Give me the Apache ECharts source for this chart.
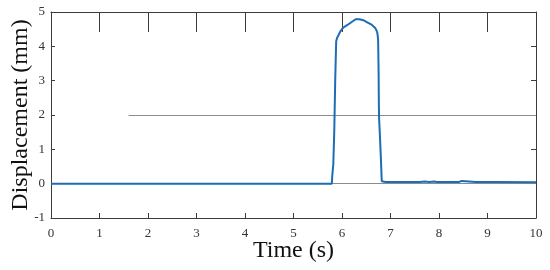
<!DOCTYPE html>
<html>
<head>
<meta charset="utf-8">
<script src="https://cdn.jsdelivr.net/npm/echarts@6/dist/echarts.min.js"></script>
<style>
html, body { margin: 0; padding: 0; background: #fff; }
#disp { width: 550px; height: 270px; }
</style>
</head>
<body>
<div id="disp"></div>
<script>
// time (s) and displacement (mm)
var time = [
	0, 1.03, 1.05, 1.07, 3.23, 3.25, 3.27, 4.88, 4.9, 4.92, 5.03, 5.05, 5.07,
	5.79, 5.80, 5.82, 5.84, 5.86, 5.88, 5.90, 5.93, 5.96, 6.0, 6.04, 6.08, 6.12,
	6.16, 6.20, 6.24, 6.28, 6.32, 6.36, 6.40, 6.44, 6.48, 6.52, 6.56, 6.60, 6.64,
	6.68, 6.71, 6.73, 6.745, 6.755, 6.76, 6.765, 6.77, 6.78, 6.80, 6.82, 6.83, 6.85,
	6.9, 7.3, 7.6, 7.7, 7.8, 7.9, 7.95, 8.04, 8.06, 8.08, 8.14, 8.16, 8.18,
	8.27, 8.29, 8.31, 8.41, 8.43, 8.45, 8.47, 8.76, 8.78, 8.8, 9.13, 9.15, 9.17, 10
];
var disp = [
	0, 0, -0.04, 0, 0, -0.03, 0, 0, -0.04, 0, 0, -0.03, 0,
	0, 0.25, 0.55, 1.5, 3.0, 4.15, 4.25, 4.33, 4.42, 4.5, 4.56, 4.6, 4.63,
	4.67, 4.71, 4.75, 4.79, 4.8, 4.79, 4.78, 4.76, 4.73, 4.7, 4.67, 4.64, 4.6,
	4.54, 4.47, 4.38, 4.2, 3.2, 2.3, 1.9, 1.85, 1.45, 0.8, 0.07, 0.12, 0.06,
	0.05, 0.05, 0.05, 0.06, 0.05, 0.06, 0.05, 0.05, 0.1, 0.05, 0.05, 0.09, 0.05,
	0.05, 0.09, 0.05, 0.05, 0.09, 0.05, 0.08, 0.05, 0.1, 0.05, 0.05, 0.09, 0.04, 0.04
];
var xTicks = [0, 10, 1];
var yTicks = [-1, 5, 1];
var refLevel = 2;
var refStart = 1.6;

var myChart = echarts.init(document.getElementById('disp'));

var points = [];
for (var i = 0; i < time.length; i++) {
	points.push([time[i], disp[i]]);
}

var font = '"Liberation Serif", "Times New Roman", serif';
var axisCol = '#3c3c3c';

option = {
	animation: false,
	grid: {
		left: 51,
		right: 14,
		top: 12,
		bottom: 52,
		outerBoundsMode: 'none'
	},
	xAxis: [{
		type: 'value',
		position: 'bottom',
		min: xTicks[0],
		max: xTicks[1],
		interval: xTicks[2],
		name: 'Time (s)',
		nameLocation: 'middle',
		nameGap: 21,
		nameMoveOverlap: false,
		nameTextStyle: { fontFamily: font, fontSize: 24, color: '#111' },
		axisLine: { onZero: false, lineStyle: { color: axisCol, width: 1 } },
		axisTick: { inside: true, length: 5, lineStyle: { color: axisCol } },
		axisLabel: { fontFamily: font, fontSize: 13, color: '#333', margin: 9 },
		splitLine: { show: false }
	}, {
		type: 'value',
		position: 'top',
		min: xTicks[0],
		max: xTicks[1],
		interval: xTicks[2],
		axisLine: { onZero: false, lineStyle: { color: axisCol, width: 1 } },
		axisTick: { inside: true, length: 20, lineStyle: { color: axisCol } },
		axisLabel: { show: false },
		splitLine: { show: false }
	}],
	yAxis: [{
		type: 'value',
		position: 'left',
		min: yTicks[0],
		max: yTicks[1],
		interval: yTicks[2],
		name: 'Displacement (mm)',
		nameLocation: 'middle',
		nameGap: 18,
		nameMoveOverlap: false,
		nameTextStyle: { fontFamily: font, fontSize: 24, color: '#111' },
		axisLine: { onZero: false, lineStyle: { color: axisCol, width: 1 } },
		axisTick: { inside: true, length: 4, lineStyle: { color: axisCol } },
		axisLabel: { fontFamily: font, fontSize: 13, color: '#333', margin: 6 },
		splitLine: { show: false }
	}, {
		type: 'value',
		position: 'right',
		min: yTicks[0],
		max: yTicks[1],
		interval: yTicks[2],
		axisLine: { onZero: false, lineStyle: { color: axisCol, width: 1 } },
		axisTick: { inside: true, length: 5, lineStyle: { color: axisCol } },
		axisLabel: { show: false },
		splitLine: { show: false }
	}],
	series: [{
		// reference lines, kept under the data line
		type: 'line',
		data: [],
		z: 1,
		markLine: {
			silent: true,
			symbol: 'none',
			label: { show: false },
			lineStyle: { color: '#8c8c8c', width: 1, type: 'solid' },
			data: [
				{ yAxis: 0 },
				[{ coord: [refStart, refLevel] }, { coord: [xTicks[1], refLevel] }]
			]
		}
	}, {
		type: 'line',
		xAxisIndex: 0,
		yAxisIndex: 0,
		symbol: 'none',
		data: points,
		lineStyle: { color: '#1c6db4', width: 2 },
		z: 5
	}]
};

myChart.setOption(option);
</script>
</body>
</html>
